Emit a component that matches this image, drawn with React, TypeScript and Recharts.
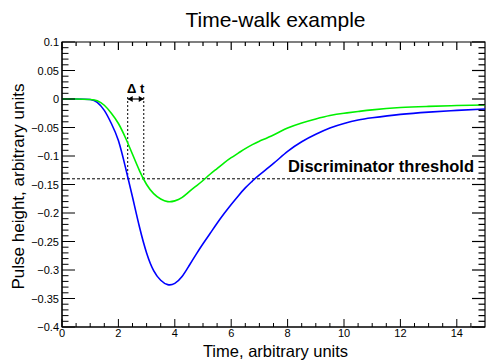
import React from "react";
import {
  LineChart,
  Line,
  XAxis,
  YAxis,
  ReferenceLine,
  ReferenceArea,
  Label,
} from "recharts";

// pulse samples (time in arbitrary units)
const timeValues = [
  0, 0.5, 1, 1.25, 1.5, 1.75, 2, 2.25, 2.5, 2.75, 3, 3.25, 3.5, 3.75, 4, 4.25,
  4.5, 4.75, 5, 5.25, 5.5, 5.75, 6, 6.25, 6.5, 6.75, 7, 7.5, 8, 8.5, 9, 9.5,
  10, 10.5, 11, 12, 13, 14, 15,
];
const largePulse = [
  0, 0, -0.001, -0.006, -0.02, -0.043, -0.073, -0.12, -0.172, -0.225, -0.27,
  -0.301, -0.318, -0.3257, -0.3235, -0.312, -0.293, -0.273, -0.254, -0.236,
  -0.218, -0.201, -0.185, -0.17, -0.156, -0.144, -0.133, -0.113, -0.092,
  -0.075, -0.062, -0.051, -0.043, -0.037, -0.033, -0.027, -0.023, -0.02,
  -0.0175,
];
const smallPulse = [
  0, 0, -0.001, -0.003, -0.011, -0.025, -0.043, -0.068, -0.097, -0.126, -0.15,
  -0.166, -0.1755, -0.18, -0.1787, -0.173, -0.163, -0.153, -0.143, -0.132,
  -0.122, -0.112, -0.103, -0.095, -0.087, -0.08, -0.074, -0.063, -0.051,
  -0.042, -0.035, -0.029, -0.025, -0.022, -0.019, -0.015, -0.013, -0.0115,
  -0.0105,
];

const xMajorTicks = [0, 2, 4, 6, 8, 10, 12, 14];
const yMajorTicks = [
  0.1, 0.05, 0, -0.05, -0.1, -0.15, -0.2, -0.25, -0.3, -0.35, -0.4,
];
const xDomain = [0, 15];
const yDomain = [-0.4, 0.1];

const thresholdLevel = -0.14;
const crossingLarge = 2.33;
const crossingSmall = 2.9;

const data = timeValues.map((t, i) => ({
  t,
  large: largePulse[i],
  small: smallPulse[i],
}));

// minor tick marks, ROOT style (4 per x division, 5 per y division)
const xTicks: number[] = [];
for (let i = 0; i < 30; i++) xTicks.push(i * 0.5);
const yTicks: number[] = [];
for (let i = 0; i <= 50; i++) yTicks.push(Math.round((-0.4 + i * 0.01) * 100) / 100);

const W = 486;
const H = 363;
const MARGIN = { top: 42, right: 1, bottom: 0, left: 0 };
const PLOT_TOP = MARGIN.top;
const PLOT_RIGHT = W - MARGIN.right;

const FONT = "'Liberation Sans', Arial, Helvetica, sans-serif";

const isMajorX = (v: number) => xMajorTicks.includes(v);
const isMajorY = (v: number) =>
  yMajorTicks.some((m) => Math.abs(m - v) < 1e-6);

const fmtY = (v: number) =>
  Math.abs(v) < 1e-9 ? "0" : (v < 0 ? "\u2212" : "") + String(Math.abs(v));

// bottom ticks also drawn mirrored on the top frame edge
const XTick = ({ x, y, payload }: any) => {
  const len = isMajorX(payload.value) ? 8 : 4;
  return (
    <g>
      <line x1={x} x2={x} y1={y} y2={y - len} stroke="#000" />
      <rect x={x - 0.6} y={PLOT_TOP} width={1.2} height={len} fill="#000" />
      {len === 8 && (
        <text x={x} y={y + 10} textAnchor="middle" fontSize={11} fill="#000">
          {payload.value}
        </text>
      )}
    </g>
  );
};

// left ticks also drawn mirrored on the right frame edge
const YTick = ({ x, y, payload }: any) => {
  const major = isMajorY(payload.value);
  const len = major ? 13 : 6.5;
  return (
    <g>
      <line x1={x} x2={x + len} y1={y} y2={y} stroke="#000" />
      <rect x={PLOT_RIGHT - len} y={y - 0.6} width={len} height={1.2} fill="#000" />
      {major && (
        <text x={x - 3} y={y + 4} textAnchor="end" fontSize={11} fill="#000">
          {fmtY(payload.value)}
        </text>
      )}
    </g>
  );
};

const ThresholdShape = ({ x1, y1, x2, y2 }: any) => (
  <g>
    <line x1={x1} y1={y1} x2={x2} y2={y2} stroke="#000" strokeDasharray="3 2" />
    <text
      x={x2 - 11}
      y={y1 - 6.5}
      textAnchor="end"
      fontSize={16.5}
      fontWeight="bold"
      fill="#000"
    >
      Discriminator threshold
    </text>
  </g>
);

const DottedShape = ({ x1, y1, x2, y2 }: any) => (
  <line x1={x1} y1={y1 - 2} x2={x2} y2={y2} stroke="#000" strokeDasharray="2 2" />
);

const ArrowShape = ({ x1, y1, x2 }: any) => (
  <g>
    <line x1={x1} y1={y1} x2={x2} y2={y1} stroke="#000" strokeWidth={1.2} />
    <path d={`M${x1},${y1} l5,-3 v6 z`} fill="#000" />
    <path d={`M${x2},${y1} l-5,-3 v6 z`} fill="#000" />
    <text
      x={(x1 + x2) / 2}
      y={y1 - 6.5}
      textAnchor="middle"
      fontSize={13}
      fontWeight="bold"
      fill="#000"
    >
      Δ t
    </text>
  </g>
);

export default function App() {
  return (
    <div style={{ position: "absolute", left: 0, top: 0, background: "#fff" }}>
      <LineChart
        width={W}
        height={H}
        data={data}
        margin={MARGIN}
        style={{ fontFamily: FONT }}
      >
        <XAxis
          dataKey="t"
          type="number"
          domain={xDomain}
          ticks={xTicks}
          interval={0}
          tickSize={0}
          tickMargin={0}
          tickLine={false}
          tick={<XTick />}
          height={36}
          axisLine={{ stroke: "#000" }}
          allowDataOverflow
        >
          <Label
            content={(p: any) => (
              <g fontFamily={FONT} fill="#000">
                <text
                  x={p.viewBox.x + p.viewBox.width / 2 + 2}
                  y={p.viewBox.y + 30}
                  textAnchor="middle"
                  fontSize={16.5}
                >
                  Time, arbitrary units
                </text>
                <text
                  x={p.viewBox.x + p.viewBox.width / 2 + 2}
                  y={PLOT_TOP - 15}
                  textAnchor="middle"
                  fontSize={21}
                >
                  Time-walk example
                </text>
              </g>
            )}
          />
        </XAxis>
        <YAxis
          type="number"
          domain={yDomain}
          ticks={yTicks}
          interval={0}
          tickSize={0}
          tickMargin={0}
          tickLine={false}
          tick={<YTick />}
          width={62}
          axisLine={{ stroke: "#000" }}
          allowDataOverflow
        >
          <Label
            content={(p: any) => {
              const cx = 24;
              const cy = p.viewBox.y + p.viewBox.height / 2 + 2;
              return (
                <text
                  x={cx}
                  y={cy}
                  transform={`rotate(-90, ${cx}, ${cy})`}
                  textAnchor="middle"
                  fontSize={17}
                  fill="#000"
                  fontFamily={FONT}
                >
                  Pulse height, arbitrary units
                </text>
              );
            }}
          />
        </YAxis>
        {/* full frame around the plot area */}
        <ReferenceArea
          x1={xDomain[0]}
          x2={xDomain[1]}
          y1={yDomain[0]}
          y2={yDomain[1]}
          fill="none"
          fillOpacity={0}
          stroke="#000"
          strokeWidth={1.2}
          strokeOpacity={1}
        />
        <ReferenceLine y={thresholdLevel} shape={ThresholdShape} />
        <ReferenceLine
          segment={[
            { x: crossingLarge, y: 0 },
            { x: crossingLarge, y: thresholdLevel },
          ]}
          shape={DottedShape}
        />
        <ReferenceLine
          segment={[
            { x: crossingSmall, y: 0 },
            { x: crossingSmall, y: thresholdLevel },
          ]}
          shape={DottedShape}
        />
        <ReferenceLine
          segment={[
            { x: crossingLarge, y: 0 },
            { x: crossingSmall, y: 0 },
          ]}
          shape={ArrowShape}
        />
        <Line
          type="natural"
          dataKey="large"
          stroke="#0000ff"
          strokeWidth={1.6}
          dot={false}
          activeDot={false}
          isAnimationActive={false}
        />
        <Line
          type="natural"
          dataKey="small"
          stroke="#00f000"
          strokeWidth={1.6}
          dot={false}
          activeDot={false}
          isAnimationActive={false}
        />
      </LineChart>
    </div>
  );
}
